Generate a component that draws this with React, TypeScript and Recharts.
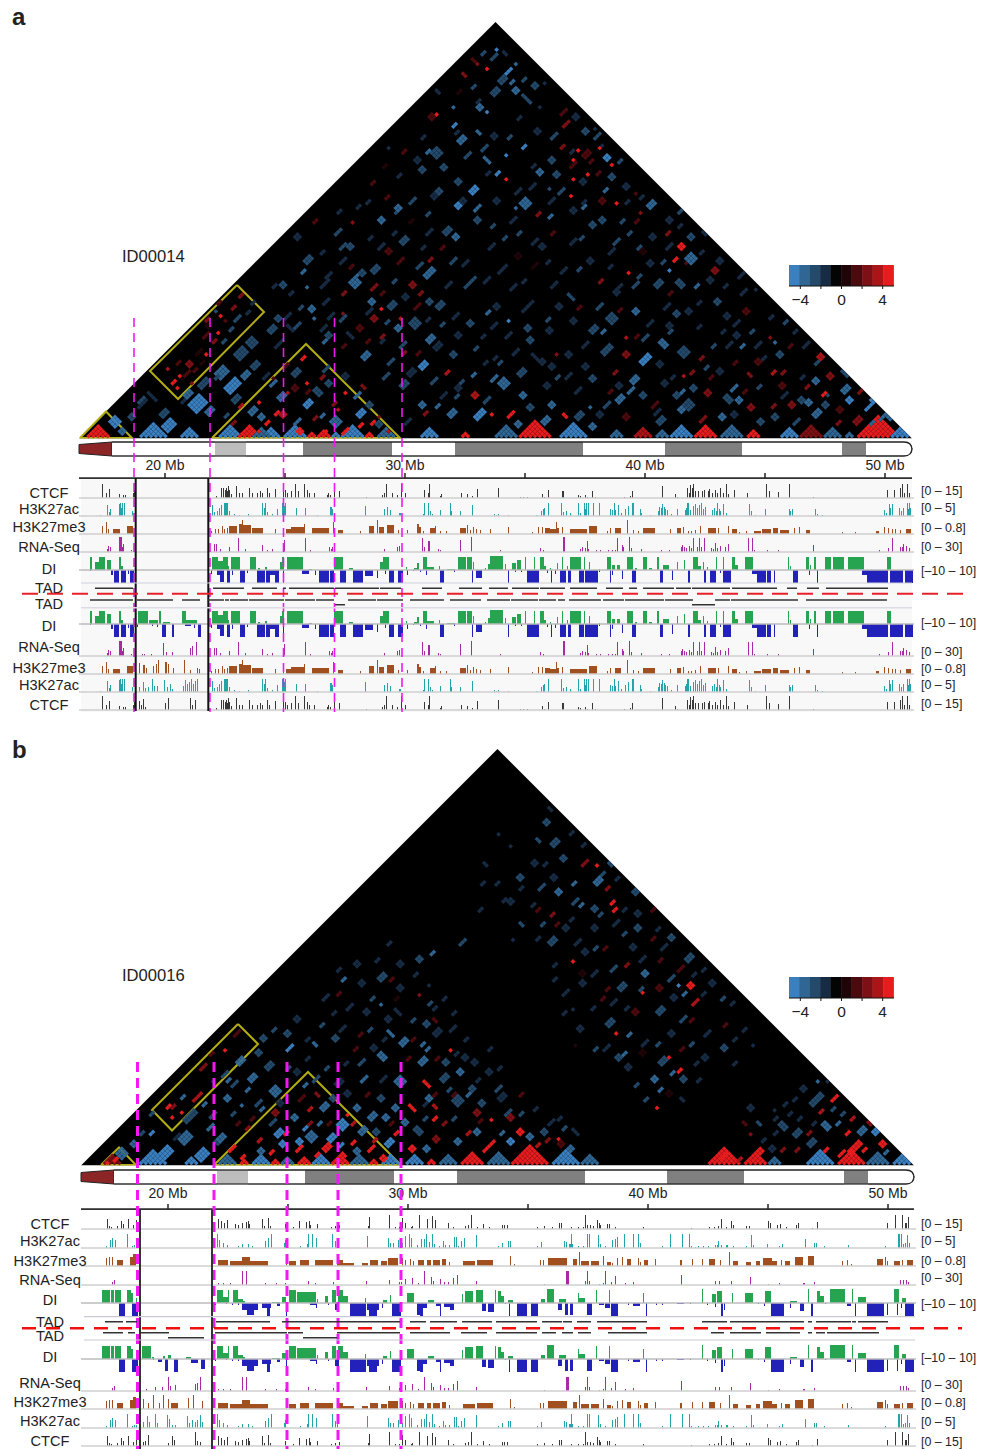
import React from "react";
import { BarChart, Bar, ComposedChart, Area, Line, Scatter, XAxis, YAxis, Cell, ReferenceLine } from "recharts";

// Track positions are in bins of 1/24 Mb from the left end of the panel; signal is scaled to the track's display range (0-15, DI +/-14).
const ctcfA = [23,14,27,5,30,9,40,4,44,3,46,3,54,5,55,8,137,2,142,10,144,10,146,8,147,10,148,7,149,12,150,8,152,4,157,12,160,5,163,5,170,10,173,5,178,5,181,7,183,5,188,10,190,5,196,9,204,13,206,8,208,5,212,7,216,14,219,7,225,14,228,8,230,5,235,5,248,3,249,5,251,3,255,14,260,7,287,1,303,3,305,5,307,14,313,5,318,3,322,14,326,5,345,8,349,5,350,14,361,2,362,4,382,5,388,4,393,2,398,9,419,10,441,1,444,1,448,1,463,4,465,1,469,8,483,7,484,7,499,3,501,2,506,3,508,1,513,7,516,1,545,1,551,2,553,7,583,12,596,4,598,1,608,10,610,5,611,13,613,10,614,14,616,7,619,7,623,7,625,8,629,7,630,9,633,5,636,8,638,5,641,10,644,5,647,14,649,4,655,8,668,5,687,14,690,7,699,6,710,14,734,1,808,8,815,8,821,10,823,14,825,5,828,14,830,5];
const ctcfAx = [60,9,62,5,64,11,66,3,86,7,89,12,111,12,113,5,116,10];
const acA = [21,1,28,11,30,4,31,7,40,12,41,13,42,8,43,13,45,13,53,5,133,11,135,4,138,5,140,8,142,11,145,13,146,13,147,13,148,13,150,5,155,2,160,1,169,2,183,13,185,8,186,13,188,4,193,2,198,7,203,13,204,13,205,10,206,13,217,8,226,8,238,1,251,9,252,9,253,7,286,10,305,7,308,9,311,6,320,3,321,3,345,13,344,2,349,13,351,5,353,2,361,6,371,13,372,5,381,5,393,11,415,2,417,1,419,2,429,1,457,1,462,5,464,7,465,8,469,13,482,13,484,4,487,5,491,3,499,13,501,3,505,13,506,7,507,13,509,13,514,13,520,13,531,7,533,6,535,13,536,6,539,11,542,3,546,7,549,10,553,13,554,13,561,7,562,3,571,1,579,5,580,9,582,8,583,12,585,9,586,7,588,6,592,2,598,7,606,6,607,8,608,13,609,13,611,6,614,10,616,12,618,8,620,11,622,13,624,7,626,9,633,6,635,8,637,5,638,13,640,7,641,5,644,12,647,3,670,12,672,5,676,1,686,7,710,7,711,5,713,7,736,7,738,2,743,1,805,6,807,3,810,12,811,8,813,12,820,8,822,5,824,8,828,13,829,7,830,13,831,8];
const acAx = [60,5,64,10,66,4,69,5,73,13,75,6,78,6,85,12,88,5,91,8,93,3,104,6,106,12,108,8,110,10,112,13,114,8,116,11,118,13];
const me3A = [[23,23,8],[27,27,12],[29,29,5],[34,40,5],[48,53,8],[132,132,3],[136,136,5],[139,139,5],[143,143,8],[145,145,5],[148,148,6],[150,157,8],[160,162,10],[163,163,14],[164,166,9],[167,171,9],[173,183,6],[196,196,5],[204,204,5],[207,211,5],[212,224,7],[225,225,10],[233,249,6],[254,254,12],[259,263,4],[281,281,3],[290,294,8],[298,298,14],[300,304,7],[308,314,9],[319,319,4],[328,328,4],[338,339,10],[340,341,7],[344,344,3],[351,355,6],[356,356,8],[361,361,3],[367,367,3],[381,386,6],[388,388,9],[391,391,4],[394,394,7],[397,397,5],[401,401,4],[411,411,5],[429,429,7],[453,453,2],[459,459,7],[463,463,7],[466,470,6],[471,476,5],[477,477,12],[478,479,6],[483,483,7],[491,507,5],[510,517,8],[528,528,3],[531,531,6],[536,541,6],[548,548,14],[554,554,4],[559,559,3],[564,575,6],[591,591,5],[598,601,6],[604,604,7],[609,609,3],[612,612,3],[616,616,4],[621,621,8],[629,636,6],[639,639,6],[649,649,8],[653,657,5],[660,660,2],[667,667,3],[675,681,3],[683,691,5],[694,698,6],[701,709,4],[715,715,6],[720,720,7],[727,730,4],[763,763,2],[776,776,2],[797,799,3],[805,805,7],[809,809,6],[813,813,5],[816,816,5],[821,821,4],[827,831,5]];
const me3Ax = [[60,60,11],[64,65,9],[67,67,6],[74,74,8],[77,77,10],[79,79,14],[86,87,12],[89,89,10],[94,94,6],[105,105,14],[111,111,4],[118,118,6],[120,120,5]];
const rnaA = [28,3,29,6,31,5,40,15,41,15,42,15,43,5,44,8,52,2,135,8,137,8,141,3,150,5,159,14,166,3,183,7,188,2,193,3,204,8,205,12,226,14,231,2,250,5,252,3,253,5,305,3,318,5,320,6,343,14,345,5,349,11,350,11,359,3,361,2,381,12,392,15,421,2,461,4,464,2,484,15,485,15,501,3,503,5,506,4,508,11,509,3,517,2,521,2,529,2,533,2,536,2,538,14,543,7,544,5,550,15,552,4,562,3,582,2,590,2,602,5,603,7,605,5,607,4,610,6,612,4,614,14,618,5,620,14,622,5,625,14,632,4,634,3,636,9,638,4,641,6,646,5,649,8,669,14,673,14,675,2,688,2,699,2,734,7,800,2,809,4,813,14,821,5,823,5,824,8,827,6,830,4];
const rnaAx = [63,2,65,2,72,2,84,13,87,4,93,4,111,8,113,10,117,14];
const diA = [[11,12,13],[16,19,8],[20,25,13],[28,31,10],[40,41,13],[42,43,4],[133,138,13],[139,143,9],[144,148,13],[149,149,4],[152,160,13],[171,176,13],[179,180,2],[186,187,3],[201,202,8],[203,204,13],[208,223,13],[230,232,1],[255,263,13],[270,273,2],[301,303,8],[304,309,13],[327,327,3],[335,338,2],[338,339,7],[344,347,13],[348,354,3],[360,360,4],[368,375,1],[379,386,13],[388,392,13],[394,394,8],[406,406,2],[409,411,6],[411,423,14],[426,426,6],[433,436,7],[438,441,10],[446,446,13],[455,455,13],[461,464,13],[465,466,4],[471,471,2],[478,478,7],[483,483,13],[488,488,4],[491,501,13],[505,505,13],[510,510,8],[520,520,1],[528,531,13],[533,535,5],[538,540,5],[548,553,13],[556,557,2],[564,567,13],[570,572,2],[578,579,13],[584,589,5],[598,598,8],[605,605,10],[614,618,13],[619,621,4],[624,624,8],[628,628,3],[637,637,13],[644,644,13],[653,655,13],[656,658,5],[666,673,13],[709,709,13],[711,711,4],[727,729,13],[731,731,5],[735,736,13],[746,751,13],[754,764,13],[769,784,13],[808,811,13]];
const diANeg = [[11,11,-1],[32,33,-5],[35,39,-13],[42,46,-13],[49,49,-4],[51,54,-13],[132,132,-4],[138,140,-5],[141,144,-12],[148,150,-13],[153,153,-5],[161,165,-13],[168,168,-3],[178,185,-13],[187,190,-13],[191,195,-5],[196,199,-13],[204,204,-13],[223,229,-4],[236,236,-5],[240,249,-13],[251,254,-13],[261,266,-13],[274,283,-13],[286,293,-6],[298,298,-8],[306,306,-4],[310,314,-13],[319,323,-13],[328,328,-5],[334,334,-1],[341,341,-2],[347,347,-5],[361,364,-13],[375,375,-2],[393,393,-13],[397,402,-8],[429,429,-13],[436,436,-2],[442,442,-2],[448,459,-13],[468,468,-3],[472,472,-13],[476,476,-4],[481,486,-13],[489,491,-13],[500,504,-13],[506,518,-13],[520,520,-2],[531,531,-13],[533,533,-5],[543,543,-9],[553,556,-13],[581,583,-13],[593,593,-10],[609,610,-13],[625,626,-13],[631,636,-13],[641,641,-3],[644,651,-13],[673,678,-4],[678,686,-13],[688,691,-13],[695,695,-13],[714,718,-13],[730,730,-5],[738,738,-13],[783,788,-5],[788,803,-13],[804,808,-13],[811,823,-13],[826,833,-13]];
const diAx = [[59,68,13],[70,78,4],[80,81,13],[84,90,2],[103,106,13],[107,117,4]];
const diAxNeg = [[58,58,-3],[73,73,-2],[78,78,-3],[83,86,-13],[93,94,-13],[106,111,-2],[115,115,-4],[119,121,-13]];
const ctcfB = [26,10,28,3,30,2,36,3,40,8,42,5,47,10,52,4,55,9,137,10,140,8,143,6,146,9,154,5,157,4,161,6,165,7,167,8,168,5,181,10,183,3,187,11,189,3,204,5,212,2,218,8,225,7,228,8,229,4,236,5,250,2,254,3,258,4,287,3,288,12,308,14,314,2,318,2,321,11,324,6,330,2,331,3,338,14,346,10,351,13,354,9,367,6,372,2,384,3,387,4,390,14,396,2,402,5,408,2,421,4,423,4,426,4,456,2,463,3,471,2,478,6,480,6,490,2,497,2,502,2,504,14,506,4,509,4,512,3,516,9,518,6,519,4,526,5,528,5,534,2,562,2,610,1,628,2,633,2,637,3,640,10,645,2,650,8,652,4,665,3,668,3,687,8,689,6,696,4,699,5,705,2,715,4,717,6,731,1,736,7,806,6,814,14,821,14,824,6,825,6,827,12];
const ctcfBx = [62,4,64,5,67,11,87,3,91,10,93,6,114,14,116,5,119,4];
const acB = [25,2,29,8,31,10,34,8,46,14,51,2,53,3,55,3,136,14,138,8,142,5,146,3,157,2,161,4,167,4,171,2,184,7,187,10,190,14,203,5,204,8,219,2,226,4,227,14,231,14,235,10,251,14,254,7,256,7,286,12,307,10,309,5,312,5,317,8,321,5,324,12,328,14,330,10,336,3,340,9,343,9,345,14,348,6,351,14,353,4,358,2,362,7,364,3,368,3,373,11,375,11,377,2,380,7,383,10,395,13,417,2,421,5,427,7,429,7,456,2,460,6,483,7,485,6,488,4,489,4,490,14,491,4,497,2,502,2,506,14,508,14,517,13,519,4,524,2,531,8,534,9,536,11,543,14,552,14,557,14,559,5,581,2,589,14,601,14,608,14,610,2,614,1,617,2,622,2,627,2,634,3,636,3,637,7,640,3,645,3,646,3,652,2,665,2,670,13,672,3,686,4,698,2,701,4,724,9,733,5,735,5,743,2,767,3,804,2,817,14,818,14,820,14,822,4,824,5,826,13,828,5];
const acBx = [62,6,66,12,68,6,74,14,76,5,86,13,88,9,91,3,94,3,106,12,108,5,111,8,114,6,116,8,119,13,121,6];
const me3B = [[25,25,8],[28,28,9],[31,31,9],[36,41,6],[49,51,9],[52,54,12],[137,146,6],[149,160,5],[161,168,9],[169,186,5],[205,205,5],[208,214,5],[219,227,6],[234,251,6],[256,262,6],[262,272,3],[281,286,3],[289,296,6],[300,305,5],[307,316,8],[321,321,8],[324,324,6],[329,329,7],[332,332,5],[337,342,6],[346,349,6],[352,358,6],[361,364,7],[368,368,4],[382,393,5],[396,411,6],[429,429,10],[433,433,2],[459,459,6],[462,462,6],[467,485,8],[492,495,7],[498,498,14],[500,507,5],[510,517,5],[522,522,10],[526,529,4],[531,531,3],[536,536,8],[541,541,9],[546,549,7],[557,557,8],[559,559,4],[563,566,6],[574,574,7],[599,600,6],[611,611,7],[621,621,7],[628,633,7],[639,639,6],[648,648,14],[652,656,5],[665,669,4],[675,678,5],[682,690,8],[691,695,5],[700,700,6],[704,708,5],[714,721,9],[723,723,1],[727,732,10],[761,761,5],[766,766,6],[770,770,2],[796,801,7],[804,804,9],[806,806,5],[813,818,5],[821,821,6],[826,831,6]];
const me3Bx = [[62,62,10],[67,67,6],[72,72,14],[78,78,6],[82,82,14],[87,87,10],[90,96,6],[107,107,11],[112,112,14],[121,121,8]];
const rnaB = [31,3,33,5,137,2,142,2,149,2,161,14,165,14,184,2,195,2,204,2,227,4,234,2,252,3,285,4,308,5,318,3,320,3,324,6,331,7,337,2,343,14,350,8,352,4,359,6,363,3,367,3,372,7,376,10,395,4,463,1,485,14,486,14,487,14,504,4,506,14,508,4,518,1,522,2,524,14,530,3,534,9,544,2,552,3,600,10,634,4,638,4,650,4,669,8,687,1,698,2,722,2,723,2,733,3,819,5,822,5,825,5,827,3];
const rnaBx = [65,2,74,4,81,4,87,14,89,5,94,6,114,7,116,8,119,14];
const diB = [[21,28,13],[30,32,13],[34,39,13],[46,49,13],[50,51,10],[55,55,5],[136,141,13],[142,146,6],[147,147,13],[152,156,13],[157,161,4],[162,163,2],[191,198,1],[201,204,6],[208,214,13],[216,234,11],[236,236,4],[244,246,7],[251,254,13],[257,261,13],[262,266,7],[284,284,5],[302,305,3],[309,309,8],[326,332,10],[347,352,3],[381,381,9],[384,391,12],[395,401,13],[414,414,13],[417,419,12],[420,422,7],[427,431,3],[460,463,4],[466,472,14],[478,484,4],[497,497,10],[498,503,5],[515,515,13],[528,528,13],[562,562,10],[621,621,14],[631,634,9],[636,640,12],[651,651,10],[664,671,10],[684,689,12],[709,715,2],[727,727,14],[736,738,12],[739,742,7],[749,763,14],[771,771,14],[777,784,6],[813,817,14],[821,824,5]];
const diBNeg = [[38,43,-13],[51,56,-13],[134,134,-2],[145,145,-1],[151,151,-2],[157,157,-2],[161,165,-7],[166,172,-12],[173,176,-7],[181,185,-5],[186,188,-13],[189,189,-5],[196,198,-3],[205,205,-13],[229,234,-2],[235,235,-5],[247,247,-2],[254,257,-7],[269,284,-13],[286,287,-7],[288,295,-13],[296,297,-7],[301,301,-5],[311,319,-13],[336,338,-12],[339,341,-13],[342,345,-5],[355,358,-3],[359,359,-13],[363,369,-4],[369,372,-7],[401,404,-8],[407,412,-9],[424,424,-1],[428,428,-13],[436,445,-13],[450,456,-13],[477,480,-7],[484,486,-12],[489,491,-12],[506,510,-12],[518,522,-2],[524,528,-5],[530,536,-13],[565,565,-13],[547,547,-2],[552,558,-3],[575,575,-2],[581,581,-2],[596,602,-1],[609,609,-1],[626,626,-2],[634,634,-4],[640,641,-13],[643,643,-7],[677,677,-1],[683,683,-3],[690,702,-13],[709,709,-5],[719,722,-8],[730,731,-13],[744,744,-1],[766,769,-3],[774,774,-13],[786,802,-13],[806,806,-12],[816,816,-12],[820,820,-5],[824,832,-13]];
const diBx = [[61,69,13],[71,72,2],[82,83,3],[87,89,4],[105,109,2]];
const diBxNeg = [[72,72,-1],[77,80,-3],[84,86,-12],[93,96,-13],[110,116,-4],[120,123,-10]];
const tadATop = [[16,54],[134,165],[173,198],[204,207],[210,255],[256,300],[301,322],[343,363],[380,403],[410,429],[433,460],[461,486],[491,518],[527,544],[550,558],[564,595],[597,612],[613,651],[653,698],[708,718],[728,740],[747,809]];
const tadABottom = [[11,54],[58,94],[103,121],[129,145],[146,150],[151,169],[170,205],[206,236],[237,255],[269,297],[298,324],[331,365],[371,402],[408,431],[432,459],[460,477],[479,486],[490,522],[524,545],[546,585],[586,614],[636,651],[652,719],[727,808]];
const tadABottom2 = [[256,266],[613,636]];
const tadBTop = [[24,42],[45,56],[135,189],[201,319],[329,345],[349,376],[381,411],[415,456],[461,481],[482,491],[496,510],[516,566],[621,646],[649,723],[727,731],[735,770],[771,775],[777,807]];
const tadBBottom = [[22,42],[47,54],[59,88],[134,206],[207,222],[256,319],[329,369],[380,406],[415,456],[461,475],[481,492],[497,510],[527,566],[630,643],[649,680],[685,719],[727,731],[735,744],[746,798]];
const tadBBottom2 = [[87,123],[222,256]];
const bandsLen = [33,103,31,57,89,63,128,82,77,100,24,46];
const bandsColor = ["#8c2626","#ffffff","#bdbdbd","#ffffff","#808080","#ffffff","#808080","#ffffff","#808080","#ffffff","#808080","#ffffff"];
const axisTicks = [20,25,30,35,40,45,50];
const swatchValues = [-4.59,-3.57,-2.55,-1.53,-0.51,0.51,1.53,2.55,3.57,4.59];
const swatchColors = ["#3a7fbf","#2f6694","#234a6b","#172c44","#040404","#1f0507","#4c0a0e","#7c1014","#ab1518","#e61c1f"];
const colorTicks = [-4,-2,0,2,4];
// Heat map: solid corner triangles [from, to, level]
const trisA = [[8,32,5],[59,89,-4],[101,119,-4],[138,164,-4],[182,205,-4],[158,182,5],[172,195,-3],[205,228,-4],[228,237,5],[237,252,5],[252,262,-4],[262,286,-4],[286,298,5],[298,318,-3],[341,359,-4],[381,394,5],[414,438,-3],[438,474,5],[481,508,-4],[530,548,-3],[555,575,4],[575,590,-3],[590,614,-4],[614,641,5],[641,668,-3],[668,684,5],[700,720,-4],[720,745,3],[745,765,-3],[765,778,-3],[778,821,5],[810,833,-4]];
// Heat map cells read by eye: [x, height, level, along /, along \]
const cellsA = [[36,12,-4,3,3],[44,4,-3,2,2],[52,20,-2,2,2],[60,30,-1,4,1],[66,46,-4],[75,38,-1,1,4],[58,37,-2,3,1],[88,6,-4,4,3],[82,22,-2,3,2],[100,36,-1,3,1],[115,27,-4,5,4],[128,24,-3,3,2],[108,40,-3,3,2],[120,50,-2,4,2],[150,46,-4,5,3],[140,60,-3,4,3],[155,36,-2,3,2],[165,60,-3,3,2],[160,78,-2,4,3],[175,70,-2,3,2],[185,60,-1,3,1],[172,92,-2,3,3],[190,105,-2,3,2],[195,90,-1,4,1],[205,120,-1,3,1],[198,118,-2,2,2],[210,108,-1,1,3],[88,70,4],[91,55,5,2,1],[98,62,5],[99,50,5],[108,72,3,2,2],[104,62,2,3,1],[95,75,2,2,1],[115,68,2,2,1],[118,85,1,3,1],[126,85,5],[123,100,2,3,1],[132,95,3,2,1],[139,105,5],[130,110,1,2,2],[145,95,-2,2,1],[138,122,5],[126,118,3,2,1],[140,135,2,2,1],[151,130,3,2,1],[160,142,3,2,1],[156,118,-2,3,1],[150,108,-2,2,1],[165,125,-1,2,1],[146,118,2],[135,128,-2],[110,55,3],[120,75,1,2,1],
[224,80,5,2,1],[229,55,5],[239,60,3,2,1],[204,72,2,2,1],[208,45,4],[194,25,5,2,1],[181,35,5],[178,8,5],[204,22,4,2,2],[221,5,5,2,2],[244,8,5],[264,5,5,3,1],[263,45,5],[254,33,3,2,1],[293,15,5,2,1],[301,22,3],[191,52,-3,3,1],[215,62,-2,3,2],[200,38,-3,3,2],[170,25,-3,3,2],[225,30,-4,3,2],[240,42,-2,2,3],[215,15,-3,3,1],[255,12,-3,3,3],[278,22,-4,3,2],[245,68,-2,3,1],[265,60,-1,2,2],[275,40,-3,3,1],[290,30,-2,2,2],[232,18,3,2,1],[160,30,4,2,1],[188,15,5,2,1],[280,12,5,2,1],[310,8,4],[150,15,3,2,1],[258,28,4],[226,45,2,2,1],[195,60,2],
[276,150,-3,3,3],[295,165,-2,3,2],[310,130,-2,3,2],[285,125,-1,3,1],[300,190,-1,3,1],[270,190,-2,2,2],[255,205,-2,3,1],[225,175,-2,3,2],[240,150,-1,4,1],[250,120,-1,3,1],[320,175,2,3,1],[330,150,3,2,2],[318,120,4],[345,160,-3,4,2],[360,130,-2,3,2],[335,110,-2,3,3],[350,95,-3,3,2],[325,85,3,2,1],[342,70,-4,3,2],[310,75,-2,3,1],[325,50,-2,3,2],[340,30,-3,2,2],[365,65,4,2,1],[360,40,-1,3,1],[370,22,-3,3,2],[395,18,-4,4,2],[395,40,4,2,2],[412,25,5],[380,55,-2,2,1],[425,50,-3,3,3],[430,22,5,3,1],[450,28,-2,2,2],[462,15,-3,3,2],[372,175,-2,3,1],[385,150,-2,5,1],[405,125,-3,2,1],[430,118,-4,1,1],[448,108,-2,2,2],[425,100,-1,3,1],[455,80,-1,1,3],[470,70,-1,2,2],[495,45,-1,3,1],[508,30,-3,1,1],[500,20,-2,3,2],[520,22,-1,2,2],[540,35,-3,3,2],[555,55,-3,3,2],[565,75,-4,4,2],[585,90,-3,2,3],[570,30,2,3,1],[580,15,-2,3,2],[595,40,-2,2,2],[605,62,4],[590,105,-2,2,1],[610,28,-2,3,3],[628,42,3,2,2],[640,20,-3,2,2],[650,35,-2,2,3],[670,28,3,2,2],[680,50,-2,2,1],[700,40,-1,3,1],[695,18,-2,2,2],[690,65,4,2,1],[720,35,-2,2,2],[735,22,-3,3,2],[745,42,5,2,1],[720,60,-1,2,1],[750,60,3,2,2],[760,80,-2,3,2],[740,80,4,2,2],[775,15,3,3,2],[785,28,-4,6,1],[800,20,-3,3,1],[765,45,-3,3,2],[708,90,2,2,1],[705,115,-2,2,1],[725,120,4],[690,100,3],[675,90,-1,3,1],[655,75,2,2,1],[640,65,-1,2,2],[630,90,-2,2,1],
[470,150,-1,3,1],[495,140,-2,1,3],[510,105,-2,3,2],[530,115,-2,3,3],[545,100,4,1,1],[525,85,-2,4,2],[555,125,-3,2,2],[535,145,-1,2,2],[560,160,-2,2,1],[585,130,-1,3,1],[575,150,-2,3,2],[600,150,-2,2,3],[588,168,-4],[610,125,-1,2,2],[628,155,-1,2,2],[660,145,-1,3,1],[645,120,-1,2,2],[605,175,2,3,1],[535,195,-2,3,1],[558,190,-2,2,1],[572,200,-1,2,2],[490,195,-1,3,1],[510,175,-1,2,2],[420,165,-1,4,1],[445,155,-1,2,1],[440,180,1,2,2],[465,175,-1,2,1],
[570,230,-3,3,2],[548,250,-1,2,2],[588,215,-1,2,2],[612,200,-2,2,2],[620,185,-1,2,1],[640,175,-1,2,2],[604,240,-2,3,1],[580,255,-1,2,2],[535,235,5],[520,215,-2,2,2],[495,225,-1,2,2],[468,235,-1,3,1],[448,250,-1,3,1],[476,262,-2,2,2],[505,255,-1,2,2],[540,275,-2,2,1],[520,290,-1,2,1],[490,285,-1,2,1],[565,185,1,2,2],
[602,190,5,2,2],[612,175,-3,3,3],[596,178,5,2,1],[636,165,3,2,2],[660,160,-1,3,1],[625,205,-1,2,2],
[416,388,-4],[401,385,-2,2,1],[406,370,5],[398,375,3],[393,377,2,1,2],[411,380,-2,3,1],[428,365,-4,3,1],[436,375,-3],[421,355,-2,3,2],[431,355,-3,2,1],[444,358,-2,2,1],[456,350,-2,2,2],[464,355,-1,1,1],[413,342,-2,3,2],[401,328,-3,2,2],[406,327,-4],[373,332,-3],[356,325,5],[351,318,2,2,2],[449,335,-2,1,4],[373,312,-4,2,1],[378,295,-3,3,2],[356,280,-2,3,3],[344,267,-2,2,2],[401,287,-2,3,1],[428,282,-4],[441,290,-4,2,1],[428,258,5],[416,263,-4,2,1],[393,245,-4,3,2],[378,230,-4,2,2],[446,230,-3,3,3],[484,312,3,3,1],[470,300,-2,3,1],[494,278,5],[499,287,5],[493,260,5],[506,265,5],[521,290,5],[528,278,-4,2,2],[533,273,5],[524,248,-3,2,1],[489,243,5],[504,230,-3,2,1],[480,325,2,3,1],[495,320,-1,2,2],[505,305,-2,2,2],[515,300,-2,3,1],[505,280,2,3,2],[490,270,2,3,1],[515,265,2,2,1],[545,235,-1,2,1],[558,225,3,1,1],[555,245,2,1,1],[458,265,-3,2,2],[436,245,-1,3,1],[414,300,-1,2,2],[395,335,-1,2,1],[380,345,1,2,1],[340,300,-1,2,1],[325,285,2,2,1],[335,275,-1,2,2],[320,262,-1,2,1],[330,235,-2,3,1],[352,240,-1,2,2],[380,255,-2,2,2],[405,265,-1,2,1],[365,205,-2,3,2],[395,215,-2,2,2],[430,215,-1,3,1],
[170,135,-1,2,1],[195,150,-1,2,1],[215,200,-1,2,2],[235,215,2,2,1],[258,225,-1,2,1],[285,235,-1,2,1],[270,215,3],[300,215,-3,2,2],[315,225,-2,2,1],[290,255,2,2,1],[305,272,1,2,1],[225,150,-3],[208,143,-1,2,1],[235,120,-3],[245,135,-1,3,1],[220,130,-2,2,1],[262,145,3,2,1],[300,95,-1,2,1],[285,95,2,2,1],[270,100,-1,1,3],[265,125,3],
[145,22,-2,2,1],[180,18,-3,2,2],[240,22,-3,2,1],[300,12,-2,2,2],[325,14,-1,3,1],[345,24,3,2,1],[358,30,-3,2,1],[375,40,-2,2,1],[405,36,-2,3,1],[440,12,-3,2,2],[470,30,-3,2,2],[485,22,5,1,2],[510,10,-3,2,2],[522,32,-2,3,1],[548,18,2,2,2],[575,24,-1,3,1],[600,26,-3,2,2],[622,16,3,3,1],[655,22,-1,2,2],[690,30,3,2,1],[712,14,-2,3,1],[728,34,-3,2,2],[760,26,2,2,2],[795,36,-4,2,2],[812,18,-3,1,2],
[135,60,-2,2,1],[215,48,2,2,2],[250,52,-2,2,2],[285,50,3,1,2],[305,60,-2,3,1],[330,62,-1,3,2],[352,55,-2,3,1],[378,48,-1,2,2],[410,58,-3,3,1],[440,62,-2,3,2],[465,50,-1,2,2],[488,60,-1,3,1],[512,58,-2,2,2],[535,65,3,2,1],[548,45,-3,3,1],[582,52,-1,2,2],[612,48,-2,2,2],[630,60,2,2,1],[652,48,-3,3,1],[672,62,3,1,2],[704,50,2,2,2],[735,55,-3,2,2],[768,62,-2,2,3],[780,46,3,2,1],[748,44,-2,1,1],
[245,95,-3,2,1],[262,90,2,2,1],[282,78,-3,3,2],[300,100,3,2,1],[318,92,-2,3,1],[338,85,2,2,1],[358,88,-1,3,2],[375,82,-2,2,2],[395,88,-2,2,1],[412,78,-1,2,1],[432,84,-1,3,1],[452,95,-2,2,2],[478,85,3,1,1],[490,82,-1,2,2],[505,92,-1,3,1],[520,105,-3,2,1],[548,82,3,2,2],[562,98,-2,3,1],[578,72,-1,2,2],[602,82,-2,3,3],[620,78,3,2,1],[645,90,-1,3,1],[662,92,-3,2,1],[678,75,2,2,2],[698,82,-2,2,2],[722,92,-1,3,1],[738,100,5,1,1],[695,95,-3],
[215,110,-2,3,1],[230,128,-3,2,2],[262,118,-2,3,1],[280,108,2,2,2],[295,118,3,2,2],[302,130,5],[316,108,-3,2,2],[335,130,2,3,1],[345,118,-1,2,1],[372,120,-1,3,1],[388,112,-2,2,2],[412,110,-1,3,1],[418,130,-1,2,2],[445,128,-1,3,1],[465,118,-2,2,1],[480,130,-1,2,2],[495,115,-1,2,2],[518,130,-2,3,1],[540,128,2,2,1],[568,112,-1,3,1],[595,122,-2,2,2],[618,110,-1,2,1],[635,135,-2,2,2],[652,112,-1,3,1],[668,125,2,2,2],[690,120,-1,2,1],
[205,150,-2,2,2],[222,165,-3,2,1],[248,160,-1,3,1],[268,170,2,2,1],[282,162,-2,2,2],[290,148,3,3,1],[315,155,-2,2,1],[335,170,-2,3,1],[350,178,3,2,1],[365,150,-1,3,1],[385,172,-1,3,1],[405,155,-1,3,1],[430,148,-1,3,1],[450,170,1,3,1],[482,165,-1,3,1],[498,168,-2,2,1],[520,155,3,2,1],[548,165,5],[552,150,-2,3,1],[568,172,-1,2,2],[590,145,2,2,1],[616,150,-3,2,1],[645,150,-1,2,1],[675,148,-1,1,1],
[240,185,-1,2,1],[258,190,-2,3,1],[290,200,-1,2,1],[310,185,2,2,2],[325,195,-2,3,2],[348,205,-1,3,1],[375,198,-3,2,2],[410,190,-1,3,1],[425,200,-2,2,1],[452,195,-1,3,1],[470,205,2,2,1],[510,210,-2,2,2],[530,185,-1,3,1],[550,205,-2,2,1],[585,190,-1,3,1],[600,210,-1,2,1],
[275,230,-1,2,1],[305,240,2,2,1],[320,228,-3,2,2],[345,222,-2,2,1],[360,245,-2,2,2],[395,228,-3,3,1],[415,235,-1,2,2],[455,222,3,2,1],[480,245,-2,3,1],[520,235,2,2,2],[530,260,-2,2,2],[560,240,-1,2,1],[470,250,-2,1,1],[435,230,-3],
[310,290,-1,1,1],[345,285,-3,2,1],[365,268,-2,2,2],[385,280,-2,3,1],[410,275,-3,1,3],[450,270,-1,2,1],[470,275,-2,2,2],[510,275,2,2,1],[515,310,-1,1,1],[375,305,-1,2,1],[400,305,-3,1,2],[430,300,-2,2,1],[455,305,-1,2,2],[480,290,3,2,1],[360,345,-1,1,2],[390,350,-2,2,1],[415,345,-2,2,1],[435,345,-3,2,2],[440,320,-1,2,1],[460,330,-1,1,1],[385,362,3,1,2],[425,385,-1,1,2],
[250,100,-2,2,2],[240,108,-1,3,1],[290,135,-3,2,2],[305,115,-2,2,1],[325,140,-1,2,2],[340,145,3,2,1],[350,135,-2,2,2],[300,145,2,2,1],[275,160,-3,2,1],[262,175,-1,3,1],[315,205,-1,2,1],[340,190,-1,2,1],[330,215,1,2,1],[360,190,2,2,1],[660,35,-3,2,2],[680,15,-2,2,2],[665,45,2,2,1],[710,30,3,2,2],[725,50,3,2,1],[745,30,-2,2,2],[755,15,3,2,1],[770,35,-4,2,2],[790,15,-3,2,1],[775,60,2,2,1],[735,75,-2,2,1],[750,95,-1,2,1],[715,105,-1,2,1],[700,65,3,2,1],[685,80,-1,2,1],[670,105,-2,2,1],[655,100,-1,2,2],[640,105,-1,2,1],[625,70,-2,2,1],[610,65,3,2,1],[600,45,-3,2,1],[590,60,-1,2,1],[565,40,-2,2,2],[540,50,-1,2,2],[530,45,2,2,1],[505,70,-1,2,2],[475,60,-2,2,1],[460,75,-1,2,2],[445,40,-3,2,2],[420,75,-2,2,1],[405,75,-1,2,1],[390,62,-3,2,1],[400,100,-1,2,1],[380,100,-1,2,2],[360,112,-2,2,1],[450,135,-1,2,1],[470,105,-1,2,2],[500,130,2,2,1],[540,150,-1,2,1],[580,175,-2,2,1],[620,135,-1,2,1],[590,110,-1,2,2],[555,100,2,2,1],[530,170,-1,2,1],[500,200,-2,2,1],[460,190,-1,2,2],[410,210,-2,2,1],[385,235,-1,2,2],[440,205,-2,2,1],[470,220,-3,2,1],[505,235,-1,2,1],[540,215,-2,2,1],[585,205,3,2,1],[600,225,-2,2,1],[555,215,2,2,1]];
const trisB = [[57,89,-4],[102,119,-4],[22,40,3],[136,158,-3],[158,170,5],[170,190,-4],[190,198,5],[198,216,-3],[216,230,5],[230,250,-4],[250,268,5],[268,288,-3],[288,300,5],[300,320,-4],[325,345,-4],[345,358,5],[358,380,-3],[380,405,5],[405,430,-3],[430,470,5],[470,500,-4],[500,520,-3],[626,659,5],[662,686,5],[686,700,-3],[755,785,5],[812,833,-4],[785,812,-3],[725,755,-4]];
const cellsB = [[30,4,5,2,1],[36,6,5],[24,3,5],[40,8,-3,3,3],[50,20,-3,2,2],[57,30,-2,2,1],[66,32,-4,2,1],[66,50,-2,2,1],[84,8,-4,4,3],[117,5,-4,4,3],[104,22,-3,4,3],[104,42,-2,5,2],[92,27,-1,3,1],[125,35,-3,3,1],[135,22,-2,2,2],[84,58,5,2,1],[92,58,3,2,1],[111,65,4,4,1],[101,52,5],[90,48,5],[141,115,5],[121,97,3,3,1],[130,110,2,2,1],[150,130,2,3,1],[100,68,-3,2,1],[155,100,-3,3,2],[170,85,-3,3,2],[150,78,-2,3,1],[185,95,-2,3,2],[160,60,-3],[175,60,-2,3,1],[195,70,-3,3,3],[180,125,-2,2,2],[205,115,-4,3,1],[205,130,-2,2,2],[230,85,-2,3,1],[225,105,-1,2,1],[240,140,-2,2,1],[255,125,-2,2,2],
[148,15,5,3,1],[160,8,5,2,1],[175,25,4,2,1],[190,12,5,2,1],[205,30,5,2,1],[215,15,5,3,1],[230,25,-3,3,3],[245,15,5,3,2],[262,8,5,2,2],[285,15,5,3,1],[300,5,5,2,2],[210,45,-3,2,2],[240,55,-3,3,2],[258,35,-4,3,3],[280,30,-3,3,2],[275,55,-3,2,2],[295,30,-2,2,2],[190,40,-2,3,1],[215,65,2,3,1],[225,55,4,2,1],[195,50,3,2,2],[170,45,2,2,1],[225,40,3,2,1],[250,65,-2,2,2],[265,70,-1,2,2],[280,85,-3,3,1],[300,65,-2,2,2],[305,45,-3,2,2],[315,30,5,2,1],[320,80,-3,3,3],[300,105,-3,2,3],[320,120,-3,3,2],[330,55,5,1,3],[345,80,5,1,3],[340,100,-3,3,2],[350,45,5,2,1],[335,30,-2,2,3],[352,25,3,2,2],[366,115,5],[360,85,-2,3,2],[375,60,-2,3,3],[390,75,-2,2,2],[355,130,-1,3,2],[370,135,-1,3,1],[345,140,-2,2,2],[405,90,-1,2,2],[395,50,3,2,2],[417,30,5,2,1],[409,22,5,2,1],[385,30,4,2,1],[400,15,5,3,1],[440,30,5,2,2],[449,27,-3,2,2],[430,45,3,2,2],[474,27,5],[455,20,4,2,1],[465,40,-1,3,1],[480,20,2,2,2],[495,30,-1,1,3],[440,70,2,2,1],[420,65,-1,3,2],[385,105,-1,2,2],[405,115,-1,2,1],[385,125,-1,2,1],[350,155,-1,2,1],[346,180,-1,1,1],
[640,8,5,3,1],[655,5,4,2,1],[675,10,5,3,2],[690,15,-1,2,2],[700,35,-2,2,3],[712,28,-2,3,2],[690,45,-1,2,1],[730,20,-2,3,2],[745,15,5,2,1],[755,10,5,3,1],[770,12,5,5,2],[780,30,-3,3,2],[745,35,-3,2,3],[735,42,-4],[730,60,-2,3,2],[752,65,5,3,1],[739,52,4,2,1],[760,50,-2,2,1],[770,45,4,2,1],[790,40,3,2,2],[800,18,5,2,2],[720,75,-1,2,2],[700,60,-1,2,1],[745,85,-1,2,1],[760,75,2,2,1],[665,40,2,1,2],[670,55,-1,2,2],
[529,262,5,2,1],[515,250,-2,2,1],[490,262,-2,3,1],[475,270,-3,2,2],[455,255,2,2,1],[430,262,-1,2,2],[489,205,5],[470,220,-2,3,2],[495,220,-1,3,1],[510,235,-1,2,2],[540,230,-2,2,1],[550,215,-1,2,2],[560,205,-1,3,1],[580,215,-1,3,1],[606,178,5,2,2],[596,180,-4,1,1],[590,165,-1,2,2],[562,172,5],[575,150,-2,3,2],[555,150,2,2,2],[610,160,4,3,1],[600,145,-2,3,1],[625,130,-1,3,1],[640,115,-2,2,2],[532,132,5],[525,140,-2,3,2],[545,130,-3,2,1],[560,120,-1,3,1],[589,108,5],[580,100,-2,3,2],[596,93,5,2,1],[600,85,-2,2,2],[570,85,-3,2,2],[615,100,-1,2,1],[577,57,5],[565,65,-2,2,1],[560,110,1,2,2],[510,190,-1,3,1],[525,175,2,2,1],[530,160,-1,3,1],[500,180,-1,2,2],[510,155,-1,2,1],[470,185,-1,2,1],[490,155,-1,1,1],[650,100,-1,2,1],[660,135,-1,2,1],
[498,400,2,1,1],[492,385,-2,2,1],[505,370,-1,2,1],[480,365,-2,3,1],[465,340,-2,2,2],[472,320,-2,3,2],[490,330,-1,2,1],[510,340,-1,2,1],[530,300,-2,2,2],[545,290,-1,2,1],[520,320,-1,1,1],[525,275,3,2,1],[500,300,3,3,1],[515,280,-3,3,2],[555,270,-2,3,2],[570,255,2,2,1],[532,255,5,2,1],[510,255,-2,2,2],[450,300,-1,2,2],[470,285,-1,2,2],[490,280,-3,2,1],[440,275,-1,2,1],[405,300,-1,1,2],[415,280,-1,2,1],[395,255,-1,2,1],[380,220,-2,3,1],[300,185,-2,3,2],[320,200,-1,2,2],[280,180,-1,2,2],[300,160,-3],[285,150,-1,2,2],[255,170,2,2,1],[265,155,-1,3,1],[320,150,-1,1,3],[312,165,1,2,1],
[140,25,-3,3,2],[155,40,2,2,1],[178,12,-3,2,2],[195,28,-4,3,2],[218,22,-4,2,2],[235,10,5,2,1],[250,25,-4,3,2],[268,22,5,2,1],[290,45,-3,3,2],[305,20,-4,3,2],[315,55,-3,2,2],[330,15,5,2,2],[345,15,-3,2,2],[200,60,-1,2,2],[220,78,-3,2,1],[235,70,3,1,2],[265,50,5],[270,40,4,2,1],[285,70,2,2,1],[300,85,-1,3,1],[255,80,-1,3,2],[245,95,-2,2,1],[275,100,-2,3,1],[290,115,-1,2,2],[310,130,-3,1,3],[330,125,2,2,1],[340,120,-3,2,1],
[345,65,-3,2,2],[355,58,4,1,2],[365,100,-2,2,2],[380,90,-3,2,2],[392,100,-1,2,2],[355,105,2,2,1],[372,70,2,2,1],[385,70,-3,2,1],[400,60,-2,2,2],[412,75,-2,3,1],[425,50,-2,3,1],[410,45,5],[395,30,-3,2,2],[430,22,-4,2,2],[460,30,-2,2,2],[450,55,-1,2,1],[475,45,-1,2,1],[490,15,-3,2,2],
[175,110,-2,2,2],[190,135,-2,2,1],[215,90,-1,2,2],[215,145,-1,2,2],[235,120,-3,1,2],[265,100,-1,2,1],[260,135,-1,3,1],[275,130,2,2,1],[305,145,-1,2,2],[290,165,-2,2,1],[335,170,3,1,1],[320,175,-1,2,2],[345,160,-2,2,1],[355,145,2,1,2],[372,150,-1,2,1],[240,165,-1,3,1],[262,185,-3,2,1],[275,200,-1,2,2],[295,205,-1,2,1],[335,205,-2,2,2],[350,210,-3,2,1],[305,220,-1,2,1],
[483,150,-1,2,1],[500,135,-1,2,2],[510,115,-2,2,1],[495,120,1,1,1],[520,115,-1,3,1],[535,105,-2,2,2],[548,95,-1,2,2],[555,80,-2,2,1],[585,70,1,2,2],[590,130,-1,2,2],[610,120,-2,2,1],[625,105,-1,2,2],[600,115,2,2,1],[640,140,2,2,1],[652,125,-1,2,1],[670,120,-1,1,1],[575,75,-3,2,1],[615,85,-1,2,1],[600,65,-1,1,2],
[480,170,-1,3,1],[540,175,-2,3,2],[565,190,-3,2,2],[585,185,-2,3,1],[605,205,-2,3,2],[630,180,-1,2,2],[620,195,-1,2,1],[575,175,2,2,2],[595,195,2,3,1],[650,160,-1,2,1],[530,195,-2,3,1],[505,210,-1,2,2],[485,235,-1,2,2],[455,225,-1,2,1],[440,240,-2,1,2],[520,215,2,2,1],[555,235,-2,2,2],[530,240,-1,3,1],[575,235,-1,2,1],[590,225,-2,2,2],[470,200,-1,2,1],[430,225,-1,1,1],[500,190,1,2,2],[575,205,2,2,1],[545,200,3,2,1],
[400,280,-1,2,1],[420,265,-1,2,1],[440,285,-2,2,2],[455,275,-2,3,1],[470,250,3,2,1],[500,260,-3,2,1],[520,290,-2,2,1],[535,285,-1,2,1],[555,250,-1,2,2],[460,300,-1,2,1],[480,305,-2,2,2],[500,320,-1,2,1],[455,325,-2,1,2],[470,355,-1,1,2],[490,350,-2,2,1],[515,300,5,1,1],[430,320,-1,1,1],[415,330,-1,1,1],[500,375,-2,1,2],[485,390,-1,1,1],
[680,25,-1,2,1],[700,15,3,2,1],[715,45,-1,2,1],[725,30,3,2,1],[740,68,-2,2,2],[755,40,-3,2,1],[772,65,2,2,1],[785,50,-2,2,2],[795,30,-4,2,2],[805,12,-3,2,1],[775,85,-1,1,2],[760,90,-2,1,1],[735,85,-3,1,1],[710,65,-1,2,1],[690,55,-1,1,1],[670,30,3,1,1],[680,40,-2,1,2],[120,60,-3,2,1],[130,48,-2,3,1],[145,65,-3,2,2],[140,88,-2,3,1],[165,75,-3,2,1],[130,85,-1,1,1],[145,85,-3,2,1],
[150,50,-2,2,1],[165,35,3,2,1],[180,55,-3,2,1],[200,20,-4,2,2],[220,35,-4,2,1],[235,40,-3,2,1],[245,40,2,2,1],[260,20,-4,2,1],[275,12,-3,2,2],[290,25,4,2,1],[310,40,2,2,1],[325,40,-3,2,2],[340,45,-2,2,1],[360,40,3,2,1],[375,22,-3,2,2],[370,45,-2,2,1],[395,42,2,2,1],[420,30,-3,2,1],[440,50,-2,2,1],[465,25,3,2,1],[480,35,-2,2,1],[350,70,2,2,1],[365,75,-2,2,1],[340,60,-1,2,1],[325,105,2,2,1],[345,115,-3,2,1],[375,110,-1,2,1],[395,85,-1,2,1],[415,95,-1,2,1],[205,95,-2,2,1],[225,125,-1,2,1],[250,150,-1,2,1],[270,115,2,2,1],[285,135,-2,2,1],[300,125,-1,2,1],[330,145,-2,2,1],[360,165,-1,2,1],[310,185,2,2,1],[330,190,-1,2,1],[255,195,-1,2,1],[540,110,-3,2,1],[575,120,-2,2,1],[590,90,-3,2,1],[610,145,2,2,1],[620,170,-1,2,1],[640,165,-2,2,1],[600,170,-3,2,1],[560,175,-2,2,1],[545,155,-1,2,1],[520,165,2,2,1],[510,215,-2,2,1],[490,245,-1,2,1],[460,240,-2,2,1],[450,260,-1,2,1],[475,240,2,2,1],[540,255,-1,2,1],[570,225,2,2,1],[610,190,-1,2,1],[715,15,3,2,1],[730,40,-1,2,1],[750,55,-2,2,1],[765,30,5,2,1],[780,15,5,2,1],[795,55,3,2,1],[810,25,-3,2,1],[690,30,-1,2,1],[705,50,-1,2,1]];

const range15 = [0, 15];
const rangeDi = [-14, 14];
function pairs(flat: number[]) {
  const m = new Map<number, number>();
  for (let i = 0; i < flat.length; i += 2) m.set(flat[i], Math.max(m.get(flat[i]) ?? 0, flat[i + 1]));
  return [...m.entries()].sort((a, b) => a[0] - b[0]).map(([p, v]) => ({ p, v }));
}
function runs(list: number[][]) {
  const m = new Map<number, number>();
  for (const [s, e, v] of list) for (let p = s; p <= e; p++) m.set(p, v);
  return [...m.entries()].sort((a, b) => a[0] - b[0]).map(([p, v]) => ({ p, v }));
}
function diRows(up: number[][], down: number[][]) {
  const m = new Map<number, { p: number; up: number; down: number }>();
  const get = (p: number) => { if (!m.has(p)) m.set(p, { p, up: 0, down: 0 }); return m.get(p)!; };
  for (const [s, e, v] of up) for (let p = s; p <= e; p++) get(p).up = v;
  for (const [s, e, v] of down) for (let p = s; p <= e; p++) get(p).down = v;
  return [...m.values()].sort((a, b) => a.p - b.p);
}
const trackDomain = [-0.5, 834.5];
function Track({ left, base, rows, color }: any) {
  return (
    <div style={{ position: "absolute", left, top: Math.round(base) - 15 }}>
      <BarChart width={835} height={17} data={rows} margin={{ top: 0, right: 0, bottom: 2, left: 0 }}>
        <XAxis type="number" dataKey="p" domain={trackDomain} hide allowDataOverflow />
        <YAxis type="number" domain={range15} hide />
        <ReferenceLine y={0} stroke="#cfcfcf" strokeWidth={1.5} />
        <Bar dataKey="v" fill={color} barSize={1} isAnimationActive={false} />
      </BarChart>
    </div>
  );
}
function DiTrack({ left, base, rows }: any) {
  return (
    <div style={{ position: "absolute", left, top: Math.round(base) - 14 }}>
      <BarChart width={835} height={28} data={rows} margin={{ top: 0, right: 0, bottom: 0, left: 0 }} stackOffset="sign">
        <XAxis type="number" dataKey="p" domain={trackDomain} hide allowDataOverflow />
        <YAxis type="number" domain={rangeDi} hide />
        <ReferenceLine y={0} stroke="#bdbdbd" strokeWidth={1.5} />
        <Bar dataKey="up" stackId="d" fill="#0f9a3c" barSize={1} isAnimationActive={false} />
        <Bar dataKey="down" stackId="d" fill="#0a0ab4" barSize={1} isAnimationActive={false} />
      </BarChart>
    </div>
  );
}
const BIN = 2.4;
function lattice(tris: number[][], cells: number[][]) {
  const m = new Map<string, { x: number; y: number; level: number }>();
  const put = (col: number, row: number, level: number) => {
    const x = col * BIN, y = row * BIN;
    if (row < 1 || y > Math.min(x, 833 - x)) return;
    m.set(col + ":" + row, { x, y, level });
  };
  for (const [a, b, l] of tris) {
    const c0 = Math.round(a / BIN), c1 = Math.round(b / BIN);
    for (let r = 1; c0 + r <= c1 - r; r++) for (let c = c0 + r; c <= c1 - r; c += 2) put(c, r, l);
  }
  for (const [x, h, l, na = 1, nb = 1] of cells) {
    const r0 = Math.max(1, Math.round(h / BIN));
    let c0 = Math.round(x / BIN);
    if ((c0 + r0) % 2) c0 += 1;
    for (let i = 0; i < na; i++) for (let k = 0; k < nb; k++) put(c0 + i - k, r0 + i + k, l);
  }
  return [...m.values()];
}
function levelColor(level: number) {
  if (level < 0) return swatchColors[Math.max(0, 4 + level)];
  return swatchColors[Math.min(9, 4 + level)];
}
function Diamond(props: any) {
  const { cx, cy, payload } = props;
  const d = BIN;
  return <polygon points={`${cx},${cy - d} ${cx + d},${cy} ${cx},${cy + d} ${cx - d},${cy}`} fill={levelColor(payload.level)} />;
}
const triangleRows = [{ x: 0, y: 0 }, { x: 416.5, y: 416.5 }, { x: 833, y: 0 }];
function Heat({ left, top, cells, outlines }: any) {
  return (
    <div style={{ position: "absolute", left: left - 3, top: top - 3 }}>
      <ComposedChart width={839} height={422.5} data={triangleRows} margin={{ top: 3, right: 3, bottom: 3, left: 3 }}>
        <XAxis type="number" dataKey="x" domain={[0, 833]} hide allowDataOverflow />
        <YAxis type="number" dataKey="y" domain={[0, 416.5]} hide allowDataOverflow />
        <Area dataKey="y" stroke="none" fill="#000" fillOpacity={1} isAnimationActive={false} dot={false} activeDot={false} />
        <Scatter data={cells} dataKey="y" shape={Diamond} isAnimationActive={false} />
        {outlines.map((o: any, i: number) => (
          <Line key={i} data={o} dataKey="y" stroke="#b3ad14" strokeWidth={2} dot={false} activeDot={false} isAnimationActive={false} />
        ))}
      </ComposedChart>
    </div>
  );
}
function Band(props: any) {
  const { x, y, width, height, fill, index0 } = props;
  if (index0 === 0) {
    return <polygon points={`${x},${y + 2.5} ${x + width},${y} ${x + width},${y + height} ${x},${y + height - 2.5}`} fill={fill} stroke="#222" strokeWidth={1} />;
  }
  if (index0 === bandsLen.length - 1) {
    const r = 8;
    const x2 = x + width;
    return <path d={`M${x},${y} H${x2 - r} Q${x2},${y} ${x2},${y + r} V${y + height - r} Q${x2},${y + height} ${x2 - r},${y + height} H${x}`} fill={fill} stroke="#222" strokeWidth={1.3} />;
  }
  return (
    <g>
      <rect x={x} y={y} width={width} height={height} fill={fill} />
      <line x1={x} x2={x + width} y1={y} y2={y} stroke="#222" strokeWidth={1.3} />
      <line x1={x} x2={x + width} y1={y + height} y2={y + height} stroke="#333" strokeWidth={1.3} />
    </g>
  );
}
const bandRow = [Object.fromEntries(bandsLen.map((l, i) => ["b" + i, l]).concat([["name", "ideogram"] as any]))];
function Ideogram({ left, top }: any) {
  return (
    <div style={{ position: "absolute", left: left - 2, top: top - 2 }}>
      <BarChart layout="vertical" width={837} height={18} data={bandRow} margin={{ top: 2, right: 2, bottom: 2, left: 2 }} barCategoryGap={0}>
        <XAxis type="number" domain={[0, 833]} hide />
        <YAxis type="category" dataKey="name" hide />
        {bandsLen.map((_, i) => (
          <Bar key={i} dataKey={"b" + i} stackId="i" fill={bandsColor[i]} isAnimationActive={false} shape={(p: any) => <Band {...p} index0={i} />} />
        ))}
      </BarChart>
    </div>
  );
}
function GenomeAxis({ left, axisY, domain, labelGap }: any) {
  const rows = [{ mb: domain[0], y: 0 }, { mb: domain[1], y: 0 }];
  return (
    <div style={{ position: "absolute", left, top: axisY - 25 }}>
      <ComposedChart width={833} height={26} data={rows} margin={{ top: 0, right: 0, bottom: 0, left: 0 }}>
        <XAxis orientation="top" type="number" dataKey="mb" domain={domain} ticks={axisTicks} height={25} tickSize={5} tickMargin={labelGap} allowDataOverflow interval={0}
          axisLine={{ stroke: "#333", strokeWidth: 1.5 }} tickLine={{ stroke: "#222", strokeWidth: 1.5 }}
          tick={{ fontSize: 14, fill: "#222", fontFamily: "'Liberation Sans', Arial" }} tickFormatter={(m: number) => (m % 10 === 0 ? `${m} Mb` : "")} />
        <YAxis type="number" domain={[-1, 1]} hide />
        <Line dataKey="y" stroke="#333" strokeWidth={1.5} dot={false} isAnimationActive={false} />
      </ComposedChart>
    </div>
  );
}
function Swatch(props: any) {
  const { x, y, width, height, fill } = props;
  return <rect x={x + width / 2 - 5.4} y={y} width={10.8} height={height} fill={fill} />;
}
function ColorBar({ left, top }: any) {
  const rows = swatchValues.map((v, i) => ({ v, h: 1, c: swatchColors[i] }));
  return (
    <div style={{ position: "absolute", left: left - 10, top }}>
      <BarChart width={125} height={50} data={rows} margin={{ top: 0, right: 10, bottom: 0, left: 10 }}>
        <XAxis type="number" dataKey="v" domain={[-5.1, 5.1]} ticks={colorTicks} interval={0} height={29} tickSize={3} tickMargin={5} allowDataOverflow
          axisLine={{ stroke: "#111" }} tickLine={{ stroke: "#111" }} tick={{ fontSize: 15.5, fill: "#222", fontFamily: "'Liberation Sans', Arial" }}
          tickFormatter={(v: number) => (v === -4 ? "\u22124" : v === 0 ? "0" : v === 4 ? "4" : "")} />
        <YAxis type="number" domain={[0, 1]} hide />
        <Bar dataKey="h" barSize={10} isAnimationActive={false} shape={Swatch}>
          {rows.map((r, i) => <Cell key={i} fill={r.c} />)}
        </Bar>
      </BarChart>
    </div>
  );
}
function Label({ x, y, text, size = 14.6, anchor = "center", bold = false }: any) {
  const style: any = { position: "absolute", top: y - size * 0.6, lineHeight: `${size * 1.2}px`, fontSize: size, fontFamily: "'Liberation Sans', Arial, sans-serif", color: "#222", whiteSpace: "nowrap", fontWeight: bold ? 700 : 400 };
  if (anchor === "center") { style.left = x - 60; style.width = 120; style.textAlign = "center"; } else style.left = x;
  return <div style={style}>{text}</div>;
}
function segs(list: number[][], x0: number, y: number) {
  const out: any[] = [];
  for (const [s, e] of list) { out.push({ x: x0 + s, y }, { x: x0 + e, y }, { x: x0 + e, y: null }); }
  return out;
}
function v(x: number, y1: number, y2: number) { return [{ x, y: y1 }, { x, y: y2 }]; }
function h(x1: number, x2: number, y: number) { return [{ x: x1, y }, { x: x2, y }]; }
const overlayLines: any[] = [
  ...[134, 210, 283.5, 334.5, 402].map((x) => ({ d: v(x, 318, 712), s: "#f018f0", w: 1.6, a: "9 6" })),
  ...[137.5, 214, 287, 338, 401].map((x) => ({ d: v(x, 1062, 1449), s: "#f318f3", w: 3, a: "10 6" })),
  ...[135.7, 208.3].map((x) => ({ d: v(x, 478, 711), s: "#111", w: 2 })),
  ...[140, 212].map((x) => ({ d: v(x, 1210, 1449), s: "#333", w: 2 })),
  { d: h(22, 972, 593.7), s: "#e8202a", w: 2, a: "16 9" },
  { d: h(22, 962, 1328.3), s: "#f01010", w: 2.5, a: "14 10" },
  { d: h(81, 912, 583), s: "#cfcfdd", w: 1.2 },
  { d: h(81, 912, 607.7), s: "#dcdce6", w: 1.6 },
  { d: h(84, 915, 1316.7), s: "#c9c9d6", w: 1.2 },
  { d: h(84, 915, 1340), s: "#c9c9d6", w: 1.2 },
  { d: segs(tadATop, 79, 588.2), s: "#333", w: 1.6 },
  { d: segs(tadABottom, 79, 600), s: "#333", w: 1.6 },
  { d: segs(tadABottom2, 79, 604.7), s: "#333", w: 1.6 },
  { d: segs(tadBTop, 81, 1321.7), s: "#333", w: 1.6 },
  { d: segs(tadBBottom, 81, 1332.7), s: "#333", w: 1.6 },
  { d: segs(tadBBottom2, 81, 1337.7), s: "#333", w: 1.6 },
];
function Overlay() {
  return (
    <div style={{ position: "absolute", left: 0, top: 0, pointerEvents: "none" }}>
      <ComposedChart width={981} height={1449} margin={{ top: 0, right: 0, bottom: 0, left: 0 }}>
        <XAxis type="number" dataKey="x" domain={[0, 981]} hide allowDataOverflow />
        <YAxis type="number" dataKey="y" domain={[0, 1449]} reversed hide allowDataOverflow />
        {overlayLines.map((l, i) => (
          <Line key={i} data={l.d} dataKey="y" stroke={l.s} strokeWidth={l.w} strokeDasharray={l.a} dot={false} activeDot={false} isAnimationActive={false} connectNulls={false} />
        ))}
      </ComposedChart>
    </div>
  );
}
const outlineA = [
  [{ x: 1, y: 0.5 }, { x: 27, y: 27 }, { x: 53, y: 0.5 }, { x: 1, y: 0.5 }],
  [{ x: 133, y: 0.5 }, { x: 227, y: 94.5 }, { x: 321, y: 0.5 }, { x: 133, y: 0.5 }],
  [{ x: 158, y: 153.5 }, { x: 185, y: 126.5 }, { x: 99, y: 39.5 }, { x: 71, y: 67.5 }, { x: 158, y: 153.5 }],
];
const outlineB = [
  [{ x: 20, y: 0.5 }, { x: 38, y: 18 }, { x: 55, y: 0.5 }, { x: 20, y: 0.5 }],
  [{ x: 133, y: 0.5 }, { x: 227, y: 93.5 }, { x: 320, y: 0.5 }, { x: 133, y: 0.5 }],
  [{ x: 157, y: 141.5 }, { x: 177, y: 121.5 }, { x: 91, y: 35 }, { x: 71, y: 55.5 }, { x: 157, y: 141.5 }],
];
const cellsOfA = lattice(trisA, cellsA);
const cellsOfB = lattice(trisB, cellsB);

function Panel({ x0, apexY, ideoY, axisY, labelGap, domain, bases, ctcf, ac, me3, rna, di, cx, ax, mx, rx, dx, labelX, labels, ranges, cells, outlines, barTop }: any) {
  const bottom = (a: any[], b: any[]) => [...a, ...b].sort((p, q) => p.p - q.p);
  return (
    <>
      <Heat left={x0} top={apexY} cells={cells} outlines={outlines} />
      <Ideogram left={x0} top={ideoY} />
      <GenomeAxis left={x0} axisY={axisY} domain={domain} labelGap={labelGap} />
      <Track left={x0} base={bases[0]} rows={ctcf} color="#222222" />
      <Track left={x0} base={bases[1]} rows={ac} color="#0b9a9c" />
      <Track left={x0} base={bases[2]} rows={me3} color="#983c06" />
      <Track left={x0} base={bases[3]} rows={rna} color="#a0109c" />
      <DiTrack left={x0} base={bases[4]} rows={di} />
      <DiTrack left={x0} base={bases[5]} rows={bottom(di, dx)} />
      <Track left={x0} base={bases[6]} rows={bottom(rna, rx)} color="#a0109c" />
      <Track left={x0} base={bases[7]} rows={bottom(me3, mx)} color="#983c06" />
      <Track left={x0} base={bases[8]} rows={bottom(ac, ax)} color="#0b9a9c" />
      <Track left={x0} base={bases[9]} rows={bottom(ctcf, cx)} color="#222222" />
      <ColorBar left={789} top={barTop} />
      {labels.map((l: any, i: number) => <Label key={i} x={labelX} y={l[1] + 1} text={l[0]} />)}
      {ranges.map((l: any, i: number) => <Label key={i} x={921} y={l[1]} text={l[0]} size={12.4} anchor="left" />)}
    </>
  );
}

const rangeText = ["[0 \u2013 15]", "[0 \u2013 5]", "[0 \u2013 0.8]", "[0 \u2013 30]", "[\u201310 \u2013 10]"];
export default function App() {
  return (
    <div style={{ position: "absolute", left: 0, top: 0, width: 981, height: 1449, background: "#fff", overflow: "hidden" }}>
      <div style={{ position: "absolute", left: 81, top: 478, width: 831, height: 234, background: "#f8f8f8" }} />
      <Label x={12} y={17} text="a" size={24} anchor="left" bold />
      <Label x={12} y={750} text="b" size={24} anchor="left" bold />
      <Label x={122} y={257} text="ID00014" size={16.6} anchor="left" />
      <Label x={122} y={976} text="ID00016" size={16.6} anchor="left" />
      <Panel x0={79} apexY={22} ideoY={442.3} axisY={478} labelGap={3} domain={[16.417, 51.125]} bases={[498, 516, 534, 552, 570, 624, 656, 674, 692, 710]}
        ctcf={pairs(ctcfA)} ac={pairs(acA)} me3={runs(me3A)} rna={pairs(rnaA)} di={diRows(diA, diANeg)}
        cx={pairs(ctcfAx)} ax={pairs(acAx)} mx={runs(me3Ax)} rx={pairs(rnaAx)} dx={diRows(diAx, diAxNeg)}
        labelX={49} cells={cellsOfA} outlines={outlineA} barTop={265}
        labels={[["CTCF", 493], ["H3K27ac", 509], ["H3K27me3", 527], ["RNA-Seq", 547], ["DI", 569], ["TAD", 588], ["TAD", 604], ["DI", 626], ["RNA-Seq", 647], ["H3K27me3", 668], ["H3K27ac", 685], ["CTCF", 705]]}
        ranges={[[rangeText[0], 491], [rangeText[1], 508], [rangeText[2], 528], [rangeText[3], 547], [rangeText[4], 571], [rangeText[4], 623], [rangeText[3], 652], [rangeText[2], 669], [rangeText[1], 685], [rangeText[0], 704]]} />
      <Panel x0={81} apexY={749} ideoY={1170} axisY={1209} labelGap={6} domain={[16.375, 51.083]} bases={[1229.3, 1248, 1266, 1284.7, 1303, 1358.7, 1390.7, 1409, 1427.7, 1446]}
        ctcf={pairs(ctcfB)} ac={pairs(acB)} me3={runs(me3B)} rna={pairs(rnaB)} di={diRows(diB, diBNeg)}
        cx={pairs(ctcfBx)} ax={pairs(acBx)} mx={runs(me3Bx)} rx={pairs(rnaBx)} dx={diRows(diBx, diBxNeg)}
        labelX={50} cells={cellsOfB} outlines={outlineB} barTop={977}
        labels={[["CTCF", 1224], ["H3K27ac", 1241], ["H3K27me3", 1261], ["RNA-Seq", 1280], ["DI", 1300], ["TAD", 1322], ["TAD", 1336], ["DI", 1357], ["RNA-Seq", 1383], ["H3K27me3", 1402], ["H3K27ac", 1421], ["CTCF", 1441]]}
        ranges={[[rangeText[0], 1224], [rangeText[1], 1241], [rangeText[2], 1261], [rangeText[3], 1278], [rangeText[4], 1304], [rangeText[4], 1358], [rangeText[3], 1385], [rangeText[2], 1403], [rangeText[1], 1422], [rangeText[0], 1442]]} />
      <Overlay />
    </div>
  );
}
